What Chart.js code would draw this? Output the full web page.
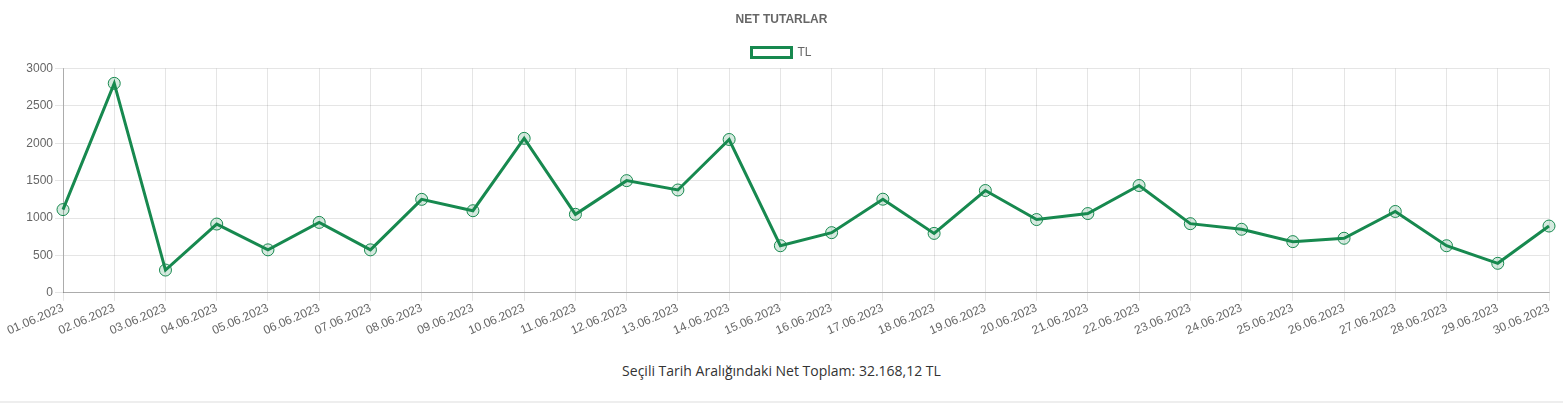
<!DOCTYPE html>
<html>
<head>
<meta charset="utf-8">
<script src="https://cdn.jsdelivr.net/npm/chart.js@4/dist/chart.umd.min.js"></script>
<style>
html,body{margin:0;padding:0;background:#fff;}
#wrap{position:relative;width:1563px;height:338px;}
#foot{width:1563px;text-align:center;font-family:"Open Sans",sans-serif;font-size:14px;color:#333;margin-top:23px;}
#line{position:absolute;top:401px;left:0;width:1563px;height:2px;background:#eee;}
</style>
</head>
<body>
<div id="wrap"><canvas id="c"></canvas></div>
<div id="foot">Seçili Tarih Aralığındaki Net Toplam: 32.168,12 TL</div>
<div id="line"></div>
<script>
const categories = ["01.06.2023","02.06.2023","03.06.2023","04.06.2023","05.06.2023","06.06.2023","07.06.2023","08.06.2023","09.06.2023","10.06.2023","11.06.2023","12.06.2023","13.06.2023","14.06.2023","15.06.2023","16.06.2023","17.06.2023","18.06.2023","19.06.2023","20.06.2023","21.06.2023","22.06.2023","23.06.2023","24.06.2023","25.06.2023","26.06.2023","27.06.2023","28.06.2023","29.06.2023","30.06.2023"];
const tlValues = [1113,2800,305,920,575,942,575,1250,1098,2065,1050,1500,1375,2050,630,805,1252,795,1368,980,1060,1435,925,850,685,730,1088,630,395,893];
const seriesName = "TL";
const chartTitle = "NET TUTARLAR";
const yTicks = [0,500,1000,1500,2000,2500,3000];

const green = "#17894f";
const fontFam = "'Helvetica Neue', Helvetica, Arial, 'Liberation Sans', sans-serif";
Chart.defaults.font.family = fontFam;
Chart.defaults.font.size = 12;
Chart.defaults.color = "#666";

new Chart(document.getElementById("c"), {
  type: "line",
  data: {
    labels: categories,
    datasets: [{
      label: seriesName,
      data: tlValues,
      borderColor: green,
      backgroundColor: "#ffffff",
      borderWidth: 3,
      pointRadius: 6,
      pointBorderWidth: 1,
      pointBorderColor: green,
      pointBackgroundColor: "rgba(23,137,79,0.18)",
      fill: false,
      tension: 0
    }]
  },
  options: {
    responsive: true,
    maintainAspectRatio: false,
    animation: false,
    layout: {padding: {left: 14, right: 14, top: 0, bottom: 0}},
    plugins: {
      title: {display: true, text: chartTitle, color: "#666", font: {size: 12, weight: "bold"}, padding: {top: 12, bottom: 10}},
      legend: {display: true, labels: {boxWidth: 40, boxHeight: 10, color: "#666", font: {size: 12}}},
      tooltip: {enabled: false}
    },
    scales: {
      x: {
        grid: {color: "rgba(0,0,0,0.1)", tickLength: 8},
        border: {color: "rgba(0,0,0,0.25)"},
        ticks: {color: "#666", autoSkip: false, maxRotation: 50, minRotation: 20, padding: 0}
      },
      y: {
        min: 0, max: 3000,
        afterBuildTicks: (s) => { s.ticks = yTicks.map(v => ({value: v})); },
        afterFit: (s) => { s.width = 49; },
        grid: {color: "rgba(0,0,0,0.1)", tickLength: 8},
        border: {color: "rgba(0,0,0,0.25)"},
        ticks: {color: "#666", padding: 2, callback: (v) => String(v)}
      }
    }
  }
});
</script>
</body>
</html>
